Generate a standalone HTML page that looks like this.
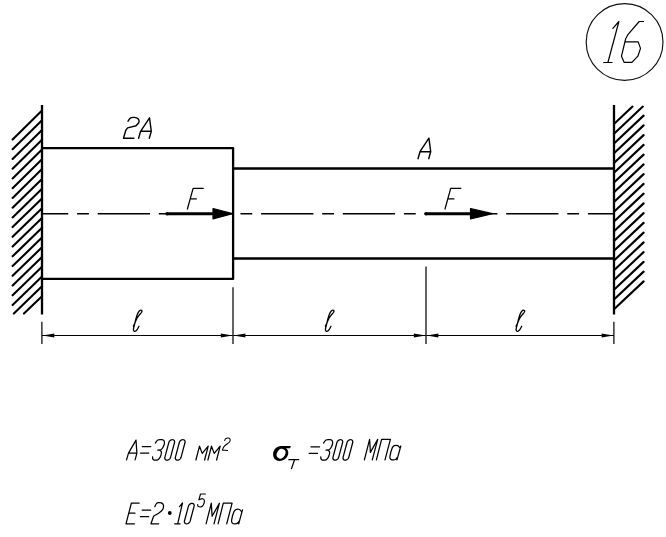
<!DOCTYPE html>
<html><head><meta charset="utf-8"><title>16</title>
<style>
html,body{margin:0;padding:0;background:#fff;}
body{width:666px;height:537px;overflow:hidden;font-family:"Liberation Sans",sans-serif;}
svg{display:block}
</style></head><body>
<svg width="666" height="537" viewBox="0 0 666 537">
<defs>
<clipPath id="cl"><rect x="11.2" y="100" width="32" height="214.3"/></clipPath>
<clipPath id="cr"><rect x="613" y="105.2" width="32" height="215"/></clipPath>
<clipPath id="cax"><rect x="42" y="200" width="572" height="30"/></clipPath>
</defs>
<rect width="666" height="537" fill="#fff"/>
<g fill="none" stroke="#000" stroke-linecap="butt">
<path d="M42,105 V314.5 M614,105 V314.5" stroke-width="2.3"/>
<path d="M42,148.1 H233.1 V278.9 H42 M233.1,168.5 H614 M233.1,258.5 H614" stroke-width="2.3" stroke-linejoin="round"/>
<path d="M42,110.50 L12.60,139.40 M42,120.27 L12.60,149.15 M42,130.04 L12.60,158.89 M42,139.81 L12.60,168.64 M42,149.58 L12.60,178.39 M42,159.35 L12.60,188.13 M42,169.12 L12.60,197.88 M42,178.89 L12.60,207.63 M42,188.66 L12.60,217.38 M42,198.43 L12.60,227.12 M42,208.20 L12.60,236.87 M42,217.97 L12.60,246.62 M42,227.74 L12.60,256.36 M42,237.51 L12.60,266.11 M42,247.28 L12.60,275.86 M42,257.05 L12.60,285.61 M42,266.82 L12.60,295.35 M42,276.59 L12.60,305.10 M42,286.36 L13.89,313.60 M42,296.13 L23.95,313.60" stroke-width="2.1" stroke-linecap="round"/>
<path d="M614,124.10 L632.52,106.60 M614,133.85 L642.84,106.60 M614,143.60 L643.60,115.63 M614,153.35 L643.60,125.38 M614,163.10 L643.60,135.13 M614,172.85 L643.60,144.88 M614,182.60 L643.60,154.63 M614,192.35 L643.60,164.38 M614,202.10 L643.60,174.13 M614,211.85 L643.60,183.88 M614,221.60 L643.60,193.63 M614,231.35 L643.60,203.38 M614,241.10 L643.60,213.13 M614,250.85 L643.60,222.88 M614,260.60 L643.60,232.63 M614,270.35 L643.60,242.38 M614,280.10 L643.60,252.13 M614,289.85 L643.60,261.88 M614,299.60 L643.60,271.63 M614,309.35 L643.60,281.38" stroke-width="2.1" stroke-linecap="round"/>
<path d="M16,213.7 H614" stroke-width="1.6" stroke-dasharray="52.3 8.8 11.8 8.8" clip-path="url(#cax)"/>
<path d="M167,213.7 H215" stroke-width="2.9"/><circle cx="167" cy="213.7" r="1.75" fill="#000" stroke="none"/><path d="M213,208.5 L232.5,213.7 L213,218.89999999999998 Z" fill="#000" stroke-width="1.2" stroke-linejoin="round"/>
<path d="M426,213.7 H472.5" stroke-width="2.9"/><circle cx="426" cy="213.7" r="1.75" fill="#000" stroke="none"/><path d="M470.5,208.5 L492.5,213.7 L470.5,218.89999999999998 Z" fill="#000" stroke-width="1.2" stroke-linejoin="round"/>
<path d="M42,335.5 H614" stroke-width="1.1"/>
<path d="M41.9,321.8 V344 M613.9,321.8 V344" stroke-width="1.2"/>
<path d="M233,287.2 V344 M426,266.4 V344" stroke-width="1.4" stroke="#222"/>
<path d="M42.5,335.5 L54.3,333.4 L54.3,337.6 Z" fill="#000" stroke="none"/>
<path d="M232.6,335.5 L220.79999999999998,333.4 L220.79999999999998,337.6 Z" fill="#000" stroke="none"/>
<path d="M233.6,335.5 L245.4,333.4 L245.4,337.6 Z" fill="#000" stroke="none"/>
<path d="M425.6,335.5 L413.8,333.4 L413.8,337.6 Z" fill="#000" stroke="none"/>
<path d="M426.6,335.5 L438.40000000000003,333.4 L438.40000000000003,337.6 Z" fill="#000" stroke="none"/>
<path d="M613.4,335.5 L601.6,333.4 L601.6,337.6 Z" fill="#000" stroke="none"/>
<circle cx="624.6" cy="42.0" r="38.4" stroke-width="1.15" stroke="#111"/>
</g>
<g fill="none" stroke="#000" stroke-linecap="round" stroke-linejoin="round">
<path d="M612.90,28.40 L618.90,21.50 L607.90,62.50 M603.70,62.50 L612.10,62.50" stroke-width="1.2"/>
<path d="M643.60,21.50 L639.20,21.50 L627.70,34.90 L625.60,39.00 L621.50,56.20 L624.10,62.30 L631.90,62.30 L637.90,56.20 L640.50,48.40 L638.20,41.90 L624.90,41.90" stroke-width="1.2"/>
<path d="M138.60,138.30 L140.60,131.30 L149.50,117.80 L151.30,131.30 L149.30,138.30 M140.60,131.30 L151.30,131.30" stroke-width="1.4"/>
<path d="M418.00,158.70 L420.00,151.70 L428.90,138.20 L430.70,151.70 L428.70,158.70 M420.00,151.70 L430.70,151.70" stroke-width="1.4"/>
<path d="M128.00,121.20 C128.38,120.68 129.38,118.73 130.30,118.10 C131.22,117.47 132.45,117.45 133.50,117.40 C134.55,117.35 135.72,117.38 136.60,117.80 C137.48,118.22 138.43,119.10 138.80,119.90 C139.17,120.70 139.25,121.63 138.80,122.60 C138.35,123.57 136.55,125.18 136.10,125.70 M136.10,125.70 L127.60,127.90 L125.80,130.20 L123.50,138.30 L133.90,138.30" stroke-width="1.4"/>
<path d="M203.20,188.40 L193.10,188.40 L187.40,209.00 M190.30,198.90 L196.30,198.90" stroke-width="1.25"/>
<path d="M460.80,188.40 L450.70,188.40 L445.00,209.00 M447.90,198.90 L453.90,198.90" stroke-width="1.25"/>
<path d="M133.35,326.20 C133.61,325.65 134.31,324.20 134.90,322.90 C135.49,321.60 136.13,319.75 136.90,318.40 C137.67,317.05 138.75,315.78 139.50,314.80 C140.25,313.82 140.98,313.10 141.40,312.50 C141.82,311.90 142.00,311.57 142.00,311.20 C142.00,310.83 141.72,310.43 141.40,310.30 C141.08,310.17 140.57,310.14 140.10,310.40 C139.63,310.66 139.08,311.12 138.60,311.85 C138.12,312.58 137.65,313.61 137.20,314.80 C136.75,315.99 136.32,317.48 135.90,319.00 C135.48,320.52 135.08,322.37 134.70,323.90 C134.32,325.43 133.80,327.17 133.60,328.20 C133.40,329.23 133.38,329.58 133.50,330.10 C133.62,330.62 133.98,331.12 134.30,331.30 C134.62,331.48 134.93,331.47 135.40,331.20 C135.87,330.93 136.50,330.53 137.10,329.70 C137.70,328.87 138.68,326.78 139.00,326.20" stroke-width="1.3"/>
<path d="M325.35,326.20 C325.61,325.65 326.31,324.20 326.90,322.90 C327.49,321.60 328.13,319.75 328.90,318.40 C329.67,317.05 330.75,315.78 331.50,314.80 C332.25,313.82 332.98,313.10 333.40,312.50 C333.82,311.90 334.00,311.57 334.00,311.20 C334.00,310.83 333.72,310.43 333.40,310.30 C333.08,310.17 332.57,310.14 332.10,310.40 C331.63,310.66 331.08,311.12 330.60,311.85 C330.12,312.58 329.65,313.61 329.20,314.80 C328.75,315.99 328.32,317.48 327.90,319.00 C327.48,320.52 327.08,322.37 326.70,323.90 C326.32,325.43 325.80,327.17 325.60,328.20 C325.40,329.23 325.38,329.58 325.50,330.10 C325.62,330.62 325.98,331.12 326.30,331.30 C326.62,331.48 326.93,331.47 327.40,331.20 C327.87,330.93 328.50,330.53 329.10,329.70 C329.70,328.87 330.68,326.78 331.00,326.20" stroke-width="1.3"/>
<path d="M516.05,326.20 C516.31,325.65 517.01,324.20 517.60,322.90 C518.19,321.60 518.83,319.75 519.60,318.40 C520.37,317.05 521.45,315.78 522.20,314.80 C522.95,313.82 523.68,313.10 524.10,312.50 C524.52,311.90 524.70,311.57 524.70,311.20 C524.70,310.83 524.42,310.43 524.10,310.30 C523.78,310.17 523.27,310.14 522.80,310.40 C522.33,310.66 521.78,311.12 521.30,311.85 C520.82,312.58 520.35,313.61 519.90,314.80 C519.45,315.99 519.02,317.48 518.60,319.00 C518.18,320.52 517.78,322.37 517.40,323.90 C517.02,325.43 516.50,327.17 516.30,328.20 C516.10,329.23 516.08,329.58 516.20,330.10 C516.32,330.62 516.68,331.12 517.00,331.30 C517.32,331.48 517.63,331.47 518.10,331.20 C518.57,330.93 519.20,330.53 519.80,329.70 C520.40,328.87 521.38,326.78 521.70,326.20" stroke-width="1.3"/>
<path d="M126.50,459.90 L128.50,453.10 L136.00,440.10 L136.90,453.10 L135.10,459.90 M128.50,453.10 L136.90,453.10" stroke-width="1.25"/>
<path d="M142.30,446.60 H150.80 M140.50,453.10 H148.80" stroke-width="1.25"/>
<path d="M155.40,443.00 C155.80,442.50 156.70,440.55 157.80,440.00 C158.90,439.45 160.95,439.55 162.00,439.70 C163.05,439.85 163.70,440.25 164.10,440.90 C164.50,441.55 164.60,442.50 164.40,443.60 C164.20,444.70 163.50,446.48 162.90,447.50 C162.30,448.52 161.65,449.27 160.80,449.70 C159.95,450.13 158.30,450.03 157.80,450.10 M157.80,450.10 C158.15,450.10 159.30,449.78 159.90,450.10 C160.50,450.42 161.20,451.23 161.40,452.00 C161.60,452.77 161.35,453.75 161.10,454.70 C160.85,455.65 160.45,456.85 159.90,457.70 C159.35,458.55 158.75,459.40 157.80,459.80 C156.85,460.20 155.03,460.25 154.20,460.10 C153.37,459.95 153.07,459.45 152.80,458.90 C152.53,458.35 152.63,457.15 152.60,456.80" stroke-width="1.25"/>
<path d="M164.85,457.30 L164.76,457.85 L164.78,458.37 L164.91,458.86 L165.14,459.28 L165.47,459.63 L165.89,459.89 L166.37,460.05 L166.90,460.10 L167.00,460.10 L167.56,460.05 L168.13,459.89 L168.68,459.63 L169.20,459.28 L169.66,458.86 L170.05,458.37 L170.35,457.85 L170.55,457.30 L174.52,442.50 L174.61,441.95 L174.59,441.43 L174.46,440.94 L174.23,440.52 L173.90,440.17 L173.48,439.91 L173.00,439.75 L172.47,439.70 L172.37,439.70 L171.81,439.75 L171.24,439.91 L170.68,440.17 L170.17,440.52 L169.70,440.94 L169.32,441.43 L169.02,441.95 L168.82,442.50 Z" stroke-width="1.25"/>
<path d="M175.35,457.30 L175.26,457.85 L175.28,458.37 L175.41,458.86 L175.64,459.28 L175.97,459.63 L176.39,459.89 L176.87,460.05 L177.40,460.10 L177.50,460.10 L178.06,460.05 L178.63,459.89 L179.18,459.63 L179.70,459.28 L180.16,458.86 L180.55,458.37 L180.85,457.85 L181.05,457.30 L185.02,442.50 L185.11,441.95 L185.09,441.43 L184.96,440.94 L184.73,440.52 L184.40,440.17 L183.98,439.91 L183.50,439.75 L182.97,439.70 L182.87,439.70 L182.31,439.75 L181.74,439.91 L181.18,440.17 L180.67,440.52 L180.20,440.94 L179.82,441.43 L179.52,441.95 L179.32,442.50 Z" stroke-width="1.25"/>
<path d="M195.90,460.00 L199.50,446.20 L202.20,453.40 L208.20,446.20 L204.60,460.00" stroke-width="1.25"/>
<path d="M207.90,460.00 L211.50,446.20 L214.20,453.40 L220.20,446.20 L216.60,460.00" stroke-width="1.25"/>
<path d="M224.70,440.50 C224.85,440.20 224.95,439.10 225.60,438.70 C226.25,438.30 227.85,438.00 228.60,438.10 C229.35,438.20 229.95,438.65 230.10,439.30 C230.25,439.95 230.45,440.85 229.50,442.00 C228.55,443.15 225.60,444.85 224.40,446.20 C223.20,447.55 222.65,449.45 222.30,450.10 M222.30,450.10 L227.70,450.40" stroke-width="1.05"/>
<path d="M290.9,446 L281.1,446 C276.5,446 273.1,450 273.1,454.3 C273.1,458.5 275.8,460.9 279.3,460.9 C284.5,460.9 288.3,457 288.3,452.8 C288.3,450.8 287.3,449.2 285.9,448.3 L290.1,448.3 Z M281.1,453.7 m2.65,-4.24 a5.1,3.4 -58 1,0 -5.3,8.48 a5.1,3.4 -58 1,0 5.3,-8.48 Z" fill="#000" fill-rule="evenodd" stroke="none"/>
<path d="M288.9,459.7 H298.7 M294.5,459.9 L291.5,468.6" stroke-width="1.3"/>
<path d="M311.00,446.90 H319.50 M309.20,453.40 H317.50" stroke-width="1.25"/>
<path d="M323.60,443.00 C324.00,442.50 324.90,440.55 326.00,440.00 C327.10,439.45 329.15,439.55 330.20,439.70 C331.25,439.85 331.90,440.25 332.30,440.90 C332.70,441.55 332.80,442.50 332.60,443.60 C332.40,444.70 331.70,446.48 331.10,447.50 C330.50,448.52 329.85,449.27 329.00,449.70 C328.15,450.13 326.50,450.03 326.00,450.10 M326.00,450.10 C326.35,450.10 327.50,449.78 328.10,450.10 C328.70,450.42 329.40,451.23 329.60,452.00 C329.80,452.77 329.55,453.75 329.30,454.70 C329.05,455.65 328.65,456.85 328.10,457.70 C327.55,458.55 326.95,459.40 326.00,459.80 C325.05,460.20 323.23,460.25 322.40,460.10 C321.57,459.95 321.27,459.45 321.00,458.90 C320.73,458.35 320.83,457.15 320.80,456.80" stroke-width="1.25"/>
<path d="M332.95,457.30 L332.86,457.85 L332.88,458.37 L333.01,458.86 L333.24,459.28 L333.57,459.63 L333.99,459.89 L334.47,460.05 L335.00,460.10 L335.10,460.10 L335.66,460.05 L336.23,459.89 L336.78,459.63 L337.30,459.28 L337.76,458.86 L338.15,458.37 L338.45,457.85 L338.65,457.30 L342.62,442.50 L342.71,441.95 L342.69,441.43 L342.56,440.94 L342.33,440.52 L342.00,440.17 L341.58,439.91 L341.10,439.75 L340.57,439.70 L340.47,439.70 L339.91,439.75 L339.34,439.91 L338.78,440.17 L338.27,440.52 L337.80,440.94 L337.42,441.43 L337.12,441.95 L336.92,442.50 Z" stroke-width="1.25"/>
<path d="M343.05,457.30 L342.96,457.85 L342.98,458.37 L343.11,458.86 L343.34,459.28 L343.67,459.63 L344.09,459.89 L344.57,460.05 L345.10,460.10 L345.20,460.10 L345.76,460.05 L346.33,459.89 L346.88,459.63 L347.40,459.28 L347.86,458.86 L348.25,458.37 L348.55,457.85 L348.75,457.30 L352.72,442.50 L352.81,441.95 L352.79,441.43 L352.66,440.94 L352.43,440.52 L352.10,440.17 L351.68,439.91 L351.20,439.75 L350.67,439.70 L350.57,439.70 L350.01,439.75 L349.44,439.91 L348.88,440.17 L348.37,440.52 L347.90,440.94 L347.52,441.43 L347.22,441.95 L347.02,442.50 Z" stroke-width="1.25"/>
<path d="M364.40,459.90 L369.60,439.30 L370.40,452.40 L377.70,439.30 L372.30,459.90" stroke-width="1.25"/>
<path d="M376.40,459.90 L381.60,439.30 L390.40,439.30 L385.00,459.90" stroke-width="1.25"/>
<path d="M400.80,446.00 L397.00,459.90 M400.00,447.90 C399.63,447.52 398.73,445.98 397.80,445.60 C396.87,445.22 395.33,445.22 394.40,445.60 C393.47,445.98 392.95,446.08 392.20,447.90 C391.45,449.72 390.15,454.62 389.90,456.50 C389.65,458.38 390.13,458.63 390.70,459.20 C391.27,459.77 392.43,459.90 393.30,459.90 C394.17,459.90 395.22,459.63 395.90,459.20 C396.58,458.77 397.15,457.62 397.40,457.30" stroke-width="1.25"/>
<g transform="translate(0,0.4)">
<path d="M139.20,502.60 L131.40,502.60 L126.00,523.40 L134.40,523.40 M128.60,512.80 L135.00,512.80" stroke-width="1.25"/>
<path d="M142.20,509.80 H150.70 M140.40,516.30 H148.70" stroke-width="1.25"/>
<path d="M154.80,506.20 C155.10,505.67 155.90,503.65 156.60,503.00 C157.30,502.35 158.20,502.38 159.00,502.30 C159.80,502.22 160.65,502.05 161.40,502.50 C162.15,502.95 163.30,503.88 163.50,505.00 C163.70,506.12 163.35,507.95 162.60,509.20 C161.85,510.45 160.50,511.40 159.00,512.50 C157.50,513.60 154.50,515.25 153.60,515.80 M153.60,515.80 L151.00,523.40 L158.70,523.40" stroke-width="1.25"/>
<circle cx="169.8" cy="512.6" r="1.9" fill="#000" stroke="none"/>
<path d="M179.50,506.20 L182.50,502.60 L177.70,523.40 M174.70,523.40 L180.10,523.40" stroke-width="1.25"/>
<path d="M184.45,520.60 L184.36,521.15 L184.38,521.67 L184.51,522.16 L184.74,522.58 L185.07,522.93 L185.49,523.19 L185.97,523.35 L186.50,523.40 L186.60,523.40 L187.16,523.35 L187.73,523.19 L188.28,522.93 L188.80,522.58 L189.26,522.16 L189.65,521.67 L189.95,521.15 L190.15,520.60 L194.12,505.80 L194.21,505.25 L194.19,504.73 L194.06,504.24 L193.83,503.82 L193.50,503.47 L193.08,503.21 L192.60,503.05 L192.07,503.00 L191.97,503.00 L191.41,503.05 L190.84,503.21 L190.28,503.47 L189.77,503.82 L189.30,504.24 L188.92,504.73 L188.62,505.25 L188.42,505.80 Z" stroke-width="1.25"/>
<path d="M205.40,493.60 L200.50,493.60 L198.90,499.40 M198.90,499.40 C199.52,499.22 201.68,498.13 202.60,498.30 C203.52,498.47 204.28,499.35 204.40,500.40 C204.52,501.45 203.87,503.58 203.30,504.60 C202.73,505.62 201.87,506.28 201.00,506.50 C200.13,506.72 198.65,506.30 198.10,505.90 C197.55,505.50 197.77,504.40 197.70,504.10" stroke-width="1.15"/>
<path d="M206.10,523.40 L211.30,502.80 L212.10,515.90 L219.40,502.80 L214.00,523.40" stroke-width="1.25"/>
<path d="M218.10,523.40 L223.30,502.80 L232.10,502.80 L226.70,523.40" stroke-width="1.25"/>
<path d="M242.50,509.50 L238.70,523.40 M241.70,511.40 C241.33,511.02 240.43,509.48 239.50,509.10 C238.57,508.72 237.03,508.72 236.10,509.10 C235.17,509.48 234.65,509.58 233.90,511.40 C233.15,513.22 231.85,518.12 231.60,520.00 C231.35,521.88 231.83,522.13 232.40,522.70 C232.97,523.27 234.13,523.40 235.00,523.40 C235.87,523.40 236.92,523.13 237.60,522.70 C238.28,522.27 238.85,521.12 239.10,520.80" stroke-width="1.25"/>
</g>
</g>
</svg>
</body></html>
